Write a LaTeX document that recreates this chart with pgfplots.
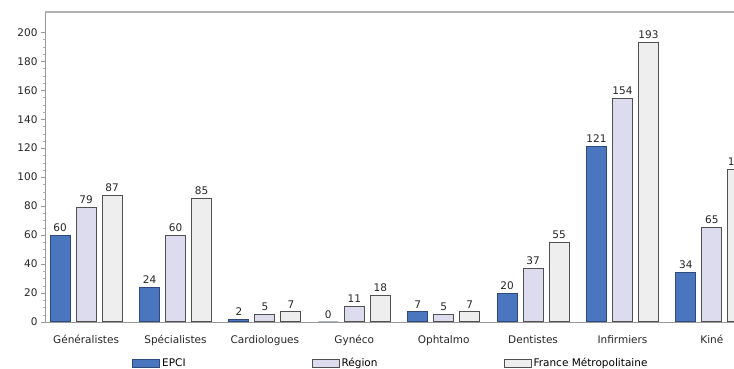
\documentclass[border=0pt]{standalone}
\usepackage{fontspec}
\setmainfont{DejaVu Sans}
\usepackage{pgfplots}
\pgfplotsset{compat=1.18}
\definecolor{epci}{HTML}{4A76C0}
\definecolor{epciedge}{HTML}{2E4A7A}
\definecolor{region}{HTML}{DCDCEE}
\definecolor{france}{HTML}{EEEEEE}
\definecolor{edge}{HTML}{505050}
\begin{document}
\begin{tikzpicture}
\useasboundingbox (0,0) rectangle (734pt,369pt);
\clip (0,0) rectangle (734pt,369pt);
\begin{axis}[
  at={(45pt,47pt)}, anchor=south west,
  scale only axis, width=720.5pt, height=310pt,
  xmin=-0.46, xmax=7.6, ymin=0, ymax=214,
  clip=false,
  ybar=6pt, bar width=20pt,
  font=\fontsize{10.5}{12}\selectfont,
  /pgf/number format/assume math mode=true,
  xtick={0,...,7},
  xticklabels={Généralistes,Spécialistes,Cardiologues,Gynéco,Ophtalmo,Dentistes,Infirmiers,Kiné},
  x tick label style={yshift=-6pt, text=black!85},
  ytick={0,20,...,200},
  y tick label style={text=black!85},
  minor y tick num=3,
  axis x line*=bottom, axis y line*=left,
  axis line style={gray!80, line width=0.8pt},
  x axis line style={-}, y axis line style={-},
  major x tick style={draw=none},
  ytick align=outside, ytick pos=left,
  major tick length=4pt, minor tick length=2pt,
  major y tick style={gray!80},
  minor y tick style={gray!60},
  nodes near coords,
  every node near coord/.append style={text=black!85, font=\fontsize{10.5}{12}\selectfont},
  legend columns=3,
  legend style={draw=none, fill=none, at={(rel axis cs:0.48,0)}, anchor=north, yshift=-32pt,
    /tikz/every even column/.append style={column sep=124pt},
    font=\fontsize{10.5}{12}\selectfont},
  legend image code/.code={\draw[#1] (0pt,-4pt) rectangle (27pt,4pt);},
]
\addplot[fill=epci, draw=epciedge, line width=1pt] coordinates {(0,60) (1,24) (2,2) (3,0) (4,7) (5,20) (6,121) (7,34)};
\addplot[fill=region, draw=edge, line width=1pt] coordinates {(0,79) (1,60) (2,5) (3,11) (4,5) (5,37) (6,154) (7,65)};
\addplot[fill=france, draw=edge, line width=1pt] coordinates {(0,87) (1,85) (2,7) (3,18) (4,7) (5,55) (6,193) (7,105)};
\legend{EPCI,Région,France Métropolitaine}
\draw[gray!60, line width=1.6pt] (rel axis cs:0,1) -- (rel axis cs:1,1);
\end{axis}
\end{tikzpicture}
\end{document}
